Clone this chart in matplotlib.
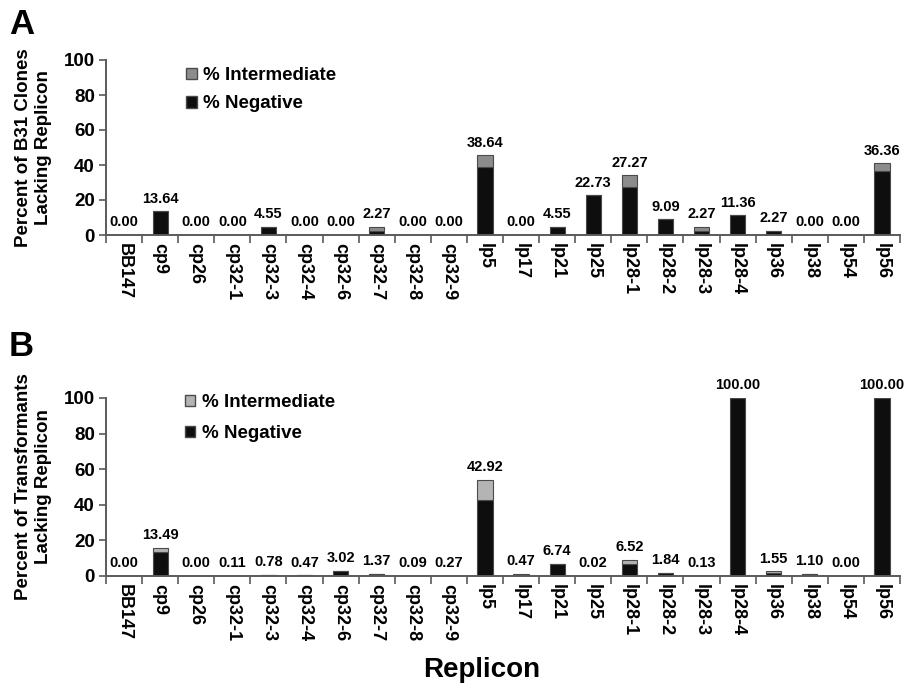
"""
Replicon loss in B31 clones and transformants, stacked bars (panels A and B).
"""
import matplotlib
matplotlib.use("Agg")
import matplotlib.pyplot as plt
import matplotlib.patches as mpatches
import numpy as np

plt.rcParams["font.family"] = ["Liberation Sans", "DejaVu Sans"]
plt.rcParams["font.weight"] = "bold"

REPLICONS = ["BB147", "cp9", "cp26", "cp32-1", "cp32-3", "cp32-4", "cp32-6",
             "cp32-7", "cp32-8", "cp32-9", "lp5", "lp17", "lp21", "lp25",
             "lp28-1", "lp28-2", "lp28-3", "lp28-4", "lp36", "lp38", "lp54", "lp56"]

# panel A: B31 clones
neg_a = [0.00, 13.64, 0.00, 0.00, 4.55, 0.00, 0.00, 2.27, 0.00, 0.00, 38.64,
         0.00, 4.55, 22.73, 27.27, 9.09, 2.27, 11.36, 2.27, 0.00, 0.00, 36.36]
int_a = [0, 0, 0, 0, 0, 0, 0, 2.27, 0, 0, 6.82,
         0, 0, 0, 6.82, 0, 2.27, 0, 0, 0, 0, 4.55]

# panel B: transformants
neg_b = [0.00, 13.49, 0.00, 0.11, 0.78, 0.47, 3.02, 1.37, 0.09, 0.27, 42.92,
         0.47, 6.74, 0.02, 6.52, 1.84, 0.13, 100.00, 1.55, 1.10, 0.00, 100.00]
int_b = [0, 2.4, 0, 0, 0, 0, 0, 0, 0, 0, 11.0,
         0.8, 0, 0, 2.5, 0, 0, 0, 1.2, 0, 0, 0]

BLACK = "#0e0e0e"
EDGE = "#4a4a4a"
SPINE = "#5a5a5a"
W, H = 909, 689

fig = plt.figure(figsize=(W / 100, H / 100), dpi=100)
fig.patch.set_facecolor("white")


def panel(rect, neg, inter, int_color, ylabel, letter, letter_xy, leg_anchor, leg_space):
    ax = fig.add_axes(rect)
    x = np.arange(len(REPLICONS))
    ax.bar(x, neg, width=0.42, color=BLACK, edgecolor=EDGE, linewidth=0.8, zorder=2)
    ax.bar(x, inter, width=0.42, bottom=neg, color=int_color, edgecolor=EDGE,
           linewidth=0.8, zorder=2)
    for xi, n, i in zip(x, neg, inter):
        ax.annotate(f"{n:.2f}", (xi, n + i), xytext=(0, 4), textcoords="offset points",
                    ha="center", va="bottom", fontsize=10.5, fontweight="bold",
                    annotation_clip=False)

    ax.set_xlim(-0.5, len(REPLICONS) - 0.5)
    ax.set_ylim(0, 100)
    ax.set_yticks([0, 20, 40, 60, 80, 100])
    ax.tick_params(axis="y", labelsize=13.5, length=5, width=1.2, color=SPINE, pad=3)

    # category labels sit between boundary ticks
    ax.set_xticks(x)
    ax.set_xticklabels(REPLICONS, rotation=-90, fontsize=13, fontweight="bold")
    ax.set_xticks(np.arange(len(REPLICONS) + 1) - 0.5, minor=True)
    ax.tick_params(axis="x", which="major", length=0, pad=6)
    ax.tick_params(axis="x", which="minor", length=6, width=1.2, color=SPINE,
                   direction="out")
    for lab in ax.get_yticklabels():
        lab.set_fontweight("bold")

    for s in ("top", "right"):
        ax.spines[s].set_visible(False)
    for s in ("left", "bottom"):
        ax.spines[s].set_color(SPINE)
        ax.spines[s].set_linewidth(1.4)

    ax.set_ylabel(ylabel, fontsize=13.5, fontweight="bold")
    ax.yaxis.set_label_coords(-0.068, 0.5)

    handles = [mpatches.Patch(facecolor=int_color, edgecolor=EDGE, label="% Intermediate"),
               mpatches.Patch(facecolor=BLACK, edgecolor=EDGE, label="% Negative")]
    ax.legend(handles=handles, loc="upper left", bbox_to_anchor=leg_anchor,
              frameon=False, fontsize=13.5, handlelength=0.55, handleheight=0.55,
              handletextpad=0.35, labelspacing=leg_space)

    fig.text(letter_xy[0] / W, 1 - letter_xy[1] / H, letter, fontsize=25,
             fontweight="bold", ha="center", va="center")
    return ax


panel([106 / W, 1 - 235 / H, 794 / W, 175 / H], neg_a, int_a, "#8c8c8c",
      "Percent of B31 Clones\nLacking Replicon", "A", (22, 25), (0.08, 1.055), 0.6)
panel([106 / W, 1 - 576 / H, 794 / W, 178 / H], neg_b, int_b, "#b4b4b4",
      "Percent of Transformants\nLacking Replicon", "B", (21, 347), (0.078, 1.115), 0.75)

fig.text(482 / W, 1 - 670 / H, "Replicon", fontsize=20, fontweight="bold",
         ha="center", va="center")

fig.savefig("out.png", dpi=100, facecolor="white")
